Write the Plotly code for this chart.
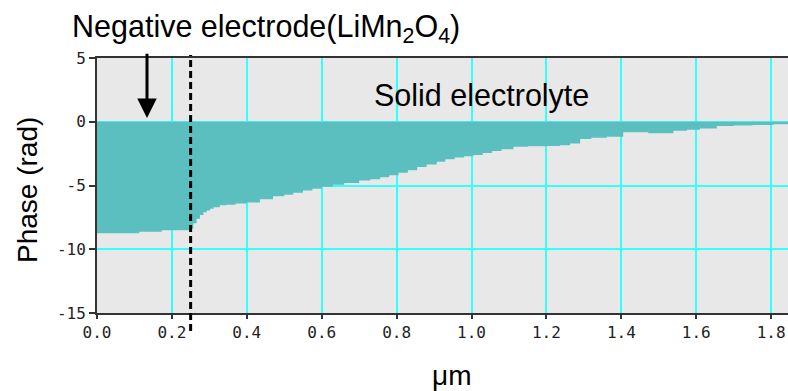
import plotly.graph_objects as go

# Position (um) and phase (rad) (step profile)
position_um = [0.0, 0.113, 0.173, 0.25, 0.257, 0.266, 0.275, 0.284, 0.293, 0.302,
               0.311, 0.328, 0.346, 0.37, 0.40, 0.435, 0.47, 0.50, 0.524, 0.55,
               0.575, 0.60, 0.63, 0.66, 0.70, 0.73, 0.756, 0.78, 0.805, 0.83,
               0.855, 0.88, 0.907, 0.93, 0.955, 0.98, 1.005, 1.03, 1.055, 1.08,
               1.112, 1.15, 1.20, 1.236, 1.263, 1.29, 1.32, 1.361, 1.405, 1.44,
               1.472, 1.539, 1.575, 1.61, 1.655, 1.70, 1.75, 1.806, 1.85]
phase_rad = [-8.75, -8.62, -8.5, -8.4, -7.96, -7.6, -7.31, -7.1, -6.97, -6.82,
             -6.71, -6.55, -6.5, -6.42, -6.34, -6.08, -5.85, -5.72, -5.56, -5.4,
             -5.25, -5.09, -4.95, -4.8, -4.6, -4.5, -4.36, -4.2, -4.0, -3.8,
             -3.55, -3.35, -3.13, -2.95, -2.8, -2.7, -2.61, -2.45, -2.3, -2.15,
             -1.96, -1.92, -1.9, -1.85, -1.7, -1.36, -1.25, -1.17, -0.83, -0.83,
             -0.91, -0.70, -0.62, -0.52, -0.34, -0.3, -0.26, -0.2, -0.13]

x_tickvals = [0.0, 0.2, 0.4, 0.6, 0.8, 1.0, 1.2, 1.4, 1.6, 1.8]
x_ticktext = ["0.0", "0.2", "0.4", "0.6", "0.8", "1.0", "1.2", "1.4", "1.6", "1.8"]
y_tickvals = [5, 0, -5, -10, -15]
y_ticktext = ["5", "0", "-5", "-10", "-15"]

boundary_x = 0.25
arrow_x = 0.1335

W, H = 788, 391
ML, MR, MT, MB = 97, 0, 58, 78
PW, PH = W - ML - MR, H - MT - MB


def px(xp):
    return (xp - ML) / PW


def py(yp):
    return (H - MB - yp) / PH


fig = go.Figure()
fig.add_trace(go.Scatter(
    x=position_um, y=phase_rad, mode="lines", line_shape="hv",
    line=dict(width=0, color="#5bbfbf"), fill="tozeroy", fillcolor="#5bbfbf",
    hoverinfo="skip", showlegend=False))

tickfont = dict(family="DejaVu Sans Mono", size=16, color="#222222")
fig.update_xaxes(range=[0, 1.845], tickvals=x_tickvals, ticktext=x_ticktext,
                 showgrid=True, gridcolor="#33ffff", gridwidth=2,
                 showline=True, linecolor="#333333", linewidth=2, mirror=True,
                 ticks="outside", ticklen=4, tickwidth=2, tickcolor="#333333",
                 tickfont=tickfont, zeroline=False, automargin=False)
fig.update_yaxes(range=[-15, 5], tickvals=y_tickvals, ticktext=y_ticktext,
                 showgrid=True, gridcolor="#33ffff", gridwidth=2,
                 showline=True, linecolor="#333333", linewidth=2,
                 ticks="outside", ticklen=6, tickwidth=2, tickcolor="#333333",
                 tickfont=tickfont, zeroline=False, automargin=False)

# dashed boundary line
fig.add_shape(type="line", xref="x", yref="paper", x0=boundary_x, x1=boundary_x,
              y0=py(331), y1=py(55), line=dict(color="black", width=3, dash="7px,4px"))

# arrow
fig.add_annotation(x=arrow_x, y=0.29, xref="x", yref="y", ax=arrow_x, ay=5.46,
                   axref="x", ayref="y", showarrow=True, arrowhead=2, arrowsize=1.3,
                   arrowwidth=3, arrowcolor="black", text="")

txtfont = dict(family="Liberation Sans", color="black")
fig.add_annotation(text="Negative electrode(LiMn<sub>2</sub>O<sub>4</sub>)",
                   x=px(266), y=py(29), xref="paper", yref="paper", showarrow=False,
                   font=dict(size=30.5, **txtfont), xanchor="center", yanchor="middle")
fig.add_annotation(text="Solid electrolyte", x=px(481), y=py(95),
                   xref="paper", yref="paper", showarrow=False,
                   font=dict(size=30.5, **txtfont), xanchor="center", yanchor="middle")
fig.add_annotation(text="Phase (rad)", x=px(28), y=py(190),
                   xref="paper", yref="paper", showarrow=False, textangle=-90,
                   font=dict(size=28, **txtfont), xanchor="center", yanchor="middle")
fig.add_annotation(text="μm", x=px(451), y=py(375), xref="paper", yref="paper",
                   showarrow=False, font=dict(size=28, **txtfont),
                   xanchor="center", yanchor="middle")

fig.update_layout(width=W, height=H, margin=dict(l=ML, r=MR, t=MT, b=MB),
                  plot_bgcolor="#e8e8e8", paper_bgcolor="white", showlegend=False)

fig.write_html("out.html", config={"displayModeBar": False},
               post_script="document.body.style.margin='0';"
                           "document.body.style.overflow='hidden';")
